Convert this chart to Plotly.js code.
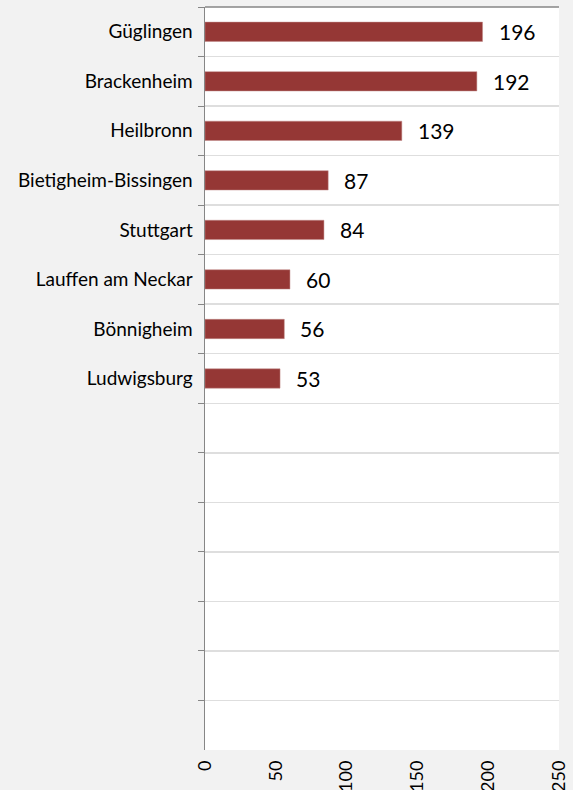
<!DOCTYPE html>
<html>
<head>
<meta charset="utf-8">
<script src="https://cdn.plot.ly/plotly-3.0.1.min.js"></script>
<style>html,body{margin:0;padding:0;background:#f2f2f2;}#chart{width:573px;height:790px;}</style>
</head>
<body>
<div id="chart"></div>
<script>
const categories = ["Güglingen","Brackenheim","Heilbronn","Bietigheim-Bissingen","Stuttgart","Lauffen am Neckar","Bönnigheim","Ludwigsburg"];
const values = [196,192,139,87,84,60,56,53];
const emptySlots = ["\u200b","\u200b\u200b","\u200b\u200b\u200b","\u200b\u200b\u200b\u200b","\u200b\u200b\u200b\u200b\u200b","\u200b\u200b\u200b\u200b\u200b\u200b","\u200b\u200b\u200b\u200b\u200b\u200b\u200b"];
const xTicks = [0,50,100,150,200,250];

const allCats = categories.concat(emptySlots);
const font = "Lato, 'Open Sans', sans-serif";

const traces = [
  {type:'bar', orientation:'h', x: values, y: categories, marker:{color:'#953735', line:{color:'#c08a89', width:0.5}}, width:0.39, hoverinfo:'skip'},
  {type:'scatter', mode:'markers', x: emptySlots.map(()=>0), y: emptySlots, marker:{opacity:0}, hoverinfo:'skip', showlegend:false}
];

const annotations = categories.map((c,i)=>({x: values[i], y: c, text: String(values[i]), xanchor:'left', xshift:14, showarrow:false, font:{family:font, size:21, color:'#000'}}));

const layout = {
  width:573, height:790,
  paper_bgcolor:'#f2f2f2', plot_bgcolor:'#ffffff',
  margin:{l:205, r:14, t:7, b:40},
  showlegend:false,
  bargap:0.61,
  xaxis:{range:[0,250], tickvals:xTicks, ticktext:xTicks.map(String), tickangle:-90, showgrid:false, zeroline:false, showline:false, ticks:'', ticklabelstandoff:6, tickfont:{family:font, size:18, color:'#000'}, fixedrange:true},
  yaxis:{type:'category', categoryorder:'array', categoryarray: allCats, range:[allCats.length-0.5, -0.5], tickson:'boundaries', ticks:'outside', ticklen:6, tickcolor:'#868686', showline:true, linecolor:'#868686', linewidth:1.5, showgrid:true, gridcolor:'#dedede', gridwidth:1.5, tickfont:{family:font, size:19, color:'#000'}, ticklabelstandoff:7, fixedrange:true},
  annotations: annotations,
  shapes:[{type:'line', xref:'paper', yref:'paper', x0:0, x1:1, y0:1, y1:1, line:{color:'#868686', width:1.5}}]
};

Plotly.newPlot('chart', traces, layout, {displayModeBar:false, staticPlot:true});
</script>
</body>
</html>
